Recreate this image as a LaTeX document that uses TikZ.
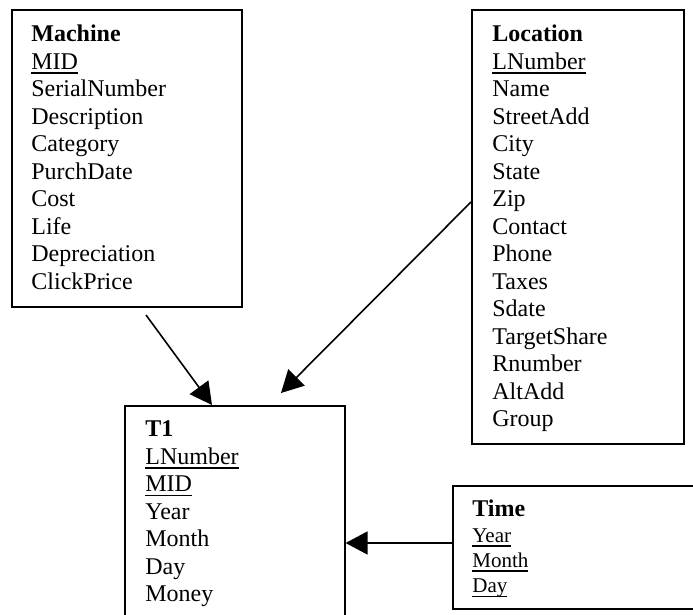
\documentclass[tikz,border=0pt]{standalone}
\usepackage{fontspec}
\setmainfont{Liberation Serif}
\usetikzlibrary{arrows.meta}
% key attribute: text with a heavy rule just under the baseline
\newcommand\keyattr[1]{\setbox0\hbox{#1}\rlap{\rule[-2.2pt]{\wd0}{0.8pt}}\box0}
\begin{document}
\begin{tikzpicture}[x=0.5pt,y=-0.5pt,
  entity/.style={draw, line width=0.8pt, rectangle, inner sep=0pt, anchor=north west},
  attr/.style={anchor=base west, inner sep=0pt, font=\fontsize{12}{14}\selectfont},
  smallattr/.style={anchor=base west, inner sep=0pt, font=\fontsize{10.5}{12.5}\selectfont},
  link/.style={line width=0.8pt, -{Triangle[length=11pt,width=11.5pt]}}]
\clip (0,0) rectangle (693,615);

% entity boxes
\node[entity, minimum width=115pt, minimum height=148.5pt] (machine)  at (11,9) {};
\node[entity, minimum width=106pt, minimum height=217pt]   (location) at (471,9) {};
\node[entity, minimum width=110pt, minimum height=117.5pt] (fact)     at (124,405) {};
\node[entity, minimum width=129pt, minimum height=61.5pt]  (time)     at (452,485) {};

% Machine attributes
\foreach \t [count=\i from 0] in {\textbf{Machine}, \keyattr{MID}, SerialNumber,
    Description, Category, PurchDate, Cost, Life, Depreciation, ClickPrice}
  \node[attr] (ma\i) at (31,{42+27.5*\i}) {\t};

% Location attributes
\foreach \t [count=\i from 0] in {\textbf{Location}, \keyattr{LNumber}, Name,
    StreetAdd, City, State, Zip, Contact, Phone, Taxes, Sdate, TargetShare,
    Rnumber, AltAdd, Group}
  \node[attr] (lo\i) at (492,{42+27.5*\i}) {\t};

% T1 attributes
\foreach \t [count=\i from 0] in {\textbf{T1}, \keyattr{LNumber}, \keyattr{MID},
    Year, Month, Day, Money}
  \node[attr] (fa\i) at (145,{437+27.5*\i}) {\t};

% Time attributes
\node[attr] (ti0) at (472,517) {\textbf{Time}};
\foreach \t [count=\i from 1] in {\keyattr{Year}, \keyattr{Month}, \keyattr{Day}}
  \node[smallattr] (ti\i) at (472,{517+25.3*\i}) {\t};

% connectors
\coordinate (mtail) at (146,315);
\coordinate (mhead) at (212,405);
\coordinate (ltail) at (471,202);
\coordinate (lhead) at (281,393);
\coordinate (tlink) at (400,543);
\draw[link] (mtail) -- (mhead);
\draw[link] (ltail) -- (lhead);
\draw[link] (time.west |- tlink) -- (fact.east |- tlink);
\end{tikzpicture}
\end{document}
